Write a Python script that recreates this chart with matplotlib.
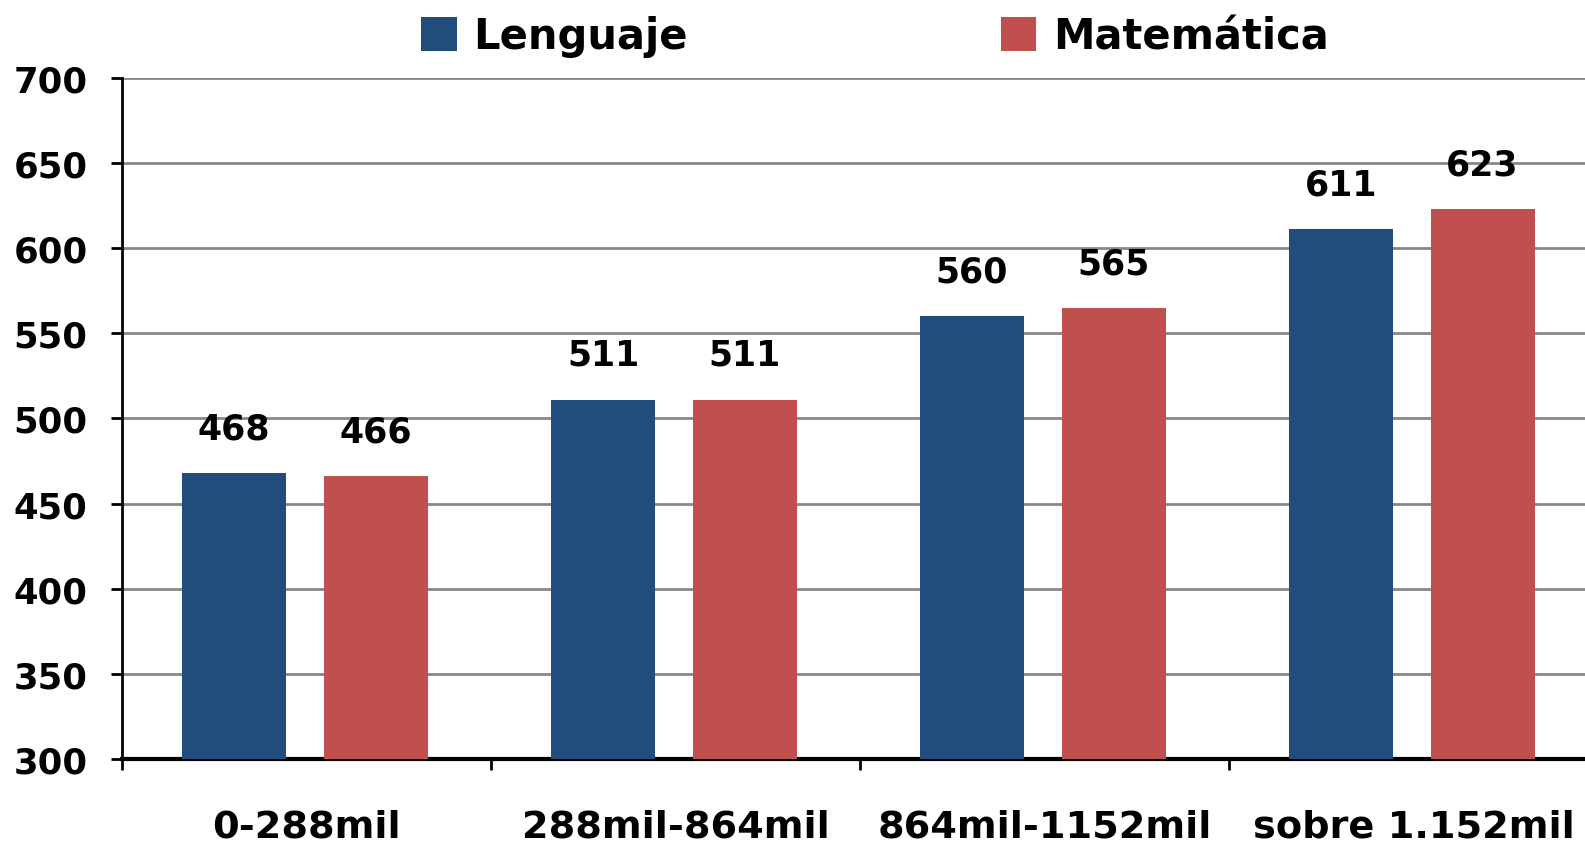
import matplotlib.pyplot as plt
import numpy as np

categorias = ["0-288mil", "288mil-864mil", "864mil-1152mil", "sobre 1.152mil"]
lenguaje = [468, 511, 560, 611]
matematica = [466, 511, 565, 623]
series = ["Lenguaje", "Matemática"]
colores = ["#214C7C", "#C0504D"]

plt.rcParams['font.family'] = ['DejaVu Sans']
plt.rcParams['font.weight'] = 'bold'

fig = plt.figure(figsize=(15.85, 8.45), dpi=100)
ax = fig.add_axes([0.0772, 0.1006, 0.931, 0.806])

x = np.arange(len(categorias))
w = 0.282
b1 = ax.bar(x - 0.197, np.array(lenguaje) - 300, w, bottom=300, color=colores[0], label=series[0], zorder=3)
b2 = ax.bar(x + 0.187, np.array(matematica) - 300, w, bottom=300, color=colores[1], label=series[1], zorder=3)

for bars, vals in [(b1, lenguaje), (b2, matematica)]:
    for r, v in zip(bars, vals):
        ax.annotate(str(v), (r.get_x() + r.get_width() / 2, v), xytext=(0, 20),
                    textcoords='offset points', ha='center', va='bottom',
                    fontsize=25, fontweight='bold')

ax.set_ylim(300, 700)
ax.set_yticks(range(300, 701, 50))
ax.set_xlim(-0.5, 3.5)
ax.set_xticks(np.arange(-0.5, 3.6, 1.0))
ax.set_xticklabels([])
ax.set_xticks(x, minor=True)
ax.set_xticklabels(categorias, minor=True, fontsize=27.5, fontweight='bold')
ax.tick_params(axis='x', which='minor', length=0, pad=36)
ax.tick_params(axis='x', which='major', length=8, width=2, direction='out')
ax.tick_params(axis='y', length=8, width=2, labelsize=25.5, pad=17)
for t in ax.get_yticklabels():
    t.set_fontweight('bold')

ax.grid(axis='y', color='#888888', linewidth=2, zorder=0)
ax.spines['top'].set_visible(False)
ax.spines['right'].set_visible(False)
ax.spines['left'].set_linewidth(2)
ax.spines['bottom'].set_linewidth(3)

leg = fig.legend(handles=[b1, b2], labels=series, loc='upper center', ncol=2,
                 bbox_to_anchor=(0.552, 1.025), frameon=False, fontsize=30,
                 handlelength=0.85, handleheight=0.85, handletextpad=0.4,
                 columnspacing=7.5)
for t in leg.get_texts():
    t.set_fontweight('bold')

fig.savefig("out.png", dpi=100)
